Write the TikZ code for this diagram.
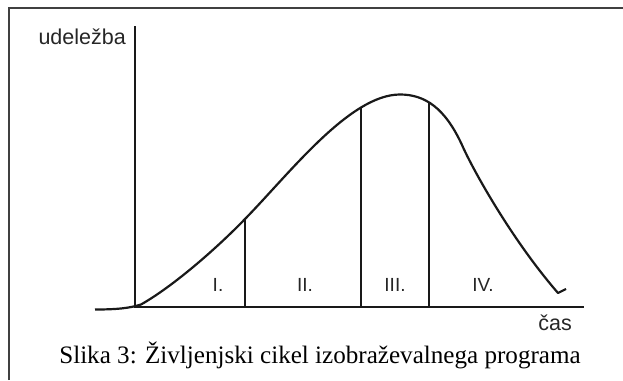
\documentclass[tikz,border=0pt]{standalone}
\usepackage{fontspec}
\setmainfont{Liberation Serif}
\setsansfont{Liberation Sans}
\begin{document}
\begin{tikzpicture}[x=1pt,y=-1pt,
  axis/.style={line width=2.2pt,black!90},
  curveline/.style={line width=2.2pt,black!90,line join=round},
  divider/.style={line width=2.2pt,black!90},
  framel/.style={line width=1.3pt,black!75},
  lab/.style={font=\fontsize{21.5}{24}\sffamily,text=black!85,inner sep=0pt},
  num/.style={font=\fontsize{19}{22}\sffamily,text=black!85,inner sep=0pt,anchor=base},
  captext/.style={font=\fontsize{25.1}{28}\rmfamily,text=black,inner sep=0pt,anchor=base}]
\useasboundingbox (0,0) rectangle (623,380);
% frame (top and left edges)
\draw[framel] (9,380) -- (9,8) -- (623,8);
% axes
\coordinate (ytop) at (135,26);
\coordinate (orig) at (135,307);
\coordinate (xend) at (584,307);
\draw[axis] (ytop) -- (orig) -- (xend);
% curve
\coordinate (c0) at (95,309.5);
\coordinate (c1) at (141,304.5);
\coordinate (c2) at (245,219);
\coordinate (c3) at (400,94.5);
\coordinate (c4) at (462,145);
\coordinate (c5) at (558,293);
\coordinate (c6) at (566,289);
\draw[curveline] (c0) .. controls (118,309.5) and (130,308) .. (c1)
  .. controls (172,287) and (215,250) .. (c2)
  .. controls (290,173) and (350,94.5) .. (c3)
  .. controls (425,94.5) and (445,108) .. (c4)
  .. controls (473,170) and (512,240) .. (c5)
  -- (c6);
% dividers
\coordinate (d1t) at (245,219); \coordinate (d1b) at (245,307);
\coordinate (d2t) at (361,107.5); \coordinate (d2b) at (361,307);
\coordinate (d3t) at (429,103); \coordinate (d3b) at (429,307);
\draw[divider] (d1t) -- (d1b);
\draw[divider] (d2t) -- (d2b);
\draw[divider] (d3t) -- (d3b);
% labels
\node[lab,anchor=base east] (yl) at (126,44) {udeležba};
\node[lab,anchor=base east] (xl) at (572,330) {čas};
\node[num] (n1) at (218,291) {I.};
\node[num] (n2) at (305,291) {II.};
\node[num] (n3) at (395,291) {III.};
\node[num] (n4) at (483,291) {IV.};
\node[captext] (caption) at (320,363) {Slika 3: Življenjski cikel izobraževalnega programa};
\end{tikzpicture}
\end{document}
